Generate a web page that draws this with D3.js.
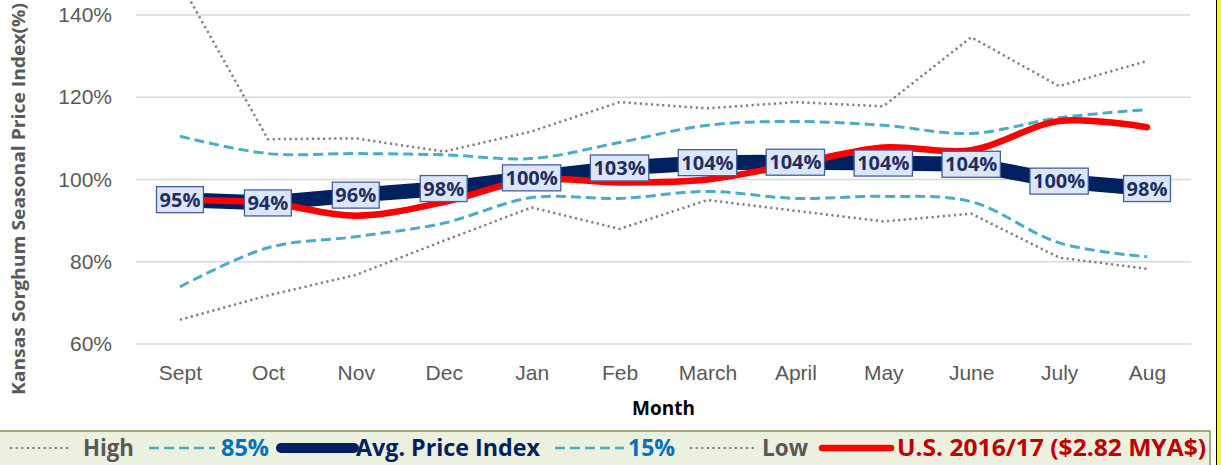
<!DOCTYPE html>
<html>
<head>
<meta charset="utf-8">
<script src="https://cdnjs.cloudflare.com/ajax/libs/d3/7.8.5/d3.min.js"></script>
<style>
  body { margin: 0; background: #fff; }
  svg { display: block; font-family: "Open Sans", sans-serif; }
</style>
</head>
<body>
<div class="chart"></div>
<script>
// data (percent of average price)
var months = ["Sept", "Oct", "Nov", "Dec", "Jan", "Feb", "March", "April", "May", "June", "July", "Aug"];
var highIdx = [148, 109.8, 110, 106.8, 111.7, 118.8, 117.3, 118.8, 117.8, 134.6, 122.7, 128.8];
var pct85 = [110.5, 106.3, 106.3, 106, 105.1, 109, 113.2, 114.1, 113.2, 111.2, 115, 117];
var avgIdx = [95.1, 94.3, 96.2, 97.8, 100.4, 102.8, 104.1, 104.2, 104.0, 103.7, 99.6, 97.8];
var pct15 = [73.9, 83.4, 86.1, 89.4, 95.6, 95.4, 97.1, 95.4, 95.9, 94.6, 84.6, 81.2];
var lowIdx = [65.9, 71.8, 76.8, 85.1, 93.2, 88, 95, 92.4, 89.8, 91.7, 81, 78.3];
var us1617 = [95, 94.3, 91.2, 94.5, 100, 99.3, 100, 103.8, 107.8, 107.1, 114.2, 112.7];
var yTicks = [60, 80, 100, 120, 140];

var svgWidth = 1221;
var svgHeight = 465;

var margin = { top: 15, right: 30, bottom: 121, left: 136 };
var width = svgWidth - margin.left - margin.right;
var height = svgHeight - margin.top - margin.bottom;

var svg = d3.select(".chart")
  .append("svg")
  .attr("width", svgWidth)
  .attr("height", svgHeight);

var chartGroup = svg.append("g")
  .attr("transform", `translate(${margin.left}, ${margin.top})`);

var xScale = d3.scalePoint()
  .domain(months)
  .range([0, width])
  .padding(0.5);

var yScale = d3.scaleLinear()
  .domain([60, 140])
  .range([height, 0]);

// gridlines
chartGroup.append("g")
  .selectAll("line")
  .data(yTicks)
  .enter()
  .append("line")
  .attr("x1", 0)
  .attr("x2", width)
  .attr("y1", d => yScale(d))
  .attr("y2", d => yScale(d))
  .attr("stroke", "#d9d9d9")
  .attr("stroke-width", 1.5);

// y axis
var leftAxis = d3.axisLeft(yScale)
  .tickValues(yTicks)
  .tickSize(0)
  .tickPadding(24)
  .tickFormat(d => d + "%");

var yAxis = chartGroup.append("g").call(leftAxis);
yAxis.select(".domain").remove();
yAxis.selectAll("text")
  .attr("fill", "#595959")
  .style("font-size", "21px");

// x axis
var bottomAxis = d3.axisBottom(xScale)
  .tickSize(0)
  .tickPadding(21);

var xAxis = chartGroup.append("g")
  .attr("transform", `translate(0, ${height})`)
  .call(bottomAxis);
xAxis.select(".domain").remove();
xAxis.selectAll("text")
  .attr("fill", "#595959")
  .style("font-size", "21px");

// axis titles
chartGroup.append("text")
  .attr("x", width / 2)
  .attr("y", height + 71)
  .attr("text-anchor", "middle")
  .attr("font-weight", "bold")
  .attr("fill", "#000")
  .style("font-size", "19px")
  .text("Month");

svg.append("text")
  .attr("transform", "rotate(-90)")
  .attr("x", -199)
  .attr("y", 25)
  .attr("text-anchor", "middle")
  .attr("font-weight", "bold")
  .attr("fill", "#595959")
  .attr("textLength", 392)
  .attr("lengthAdjust", "spacingAndGlyphs")
  .style("font-size", "18px")
  .text("Kansas Sorghum Seasonal Price Index(%)");

// series, in drawing order
var series = [
  { name: "High", values: highIdx, color: "#7f7f7f", width: 2.5, dash: "2.2,3.4", curve: d3.curveLinear, text: "#595959" },
  { name: "85%", values: pct85, color: "#4bacc6", width: 3, dash: "10,5", curve: d3.curveCatmullRom, text: "#0070c0" },
  { name: "Avg. Price Index", values: avgIdx, color: "#002060", width: 15, dash: null, curve: d3.curveLinear, text: "#002060" },
  { name: "15%", values: pct15, color: "#4bacc6", width: 3, dash: "10,5", curve: d3.curveCatmullRom, text: "#0070c0" },
  { name: "Low", values: lowIdx, color: "#7f7f7f", width: 2.5, dash: "2.2,3.4", curve: d3.curveLinear, text: "#595959" },
  { name: "U.S. 2016/17 ($2.82 MYA$)", values: us1617, color: "#ff0000", width: 6.5, dash: null, curve: d3.curveCatmullRom, text: "#c00000" }
];

series.forEach(function(s) {
  var line = d3.line()
    .x((d, i) => xScale(months[i]))
    .y(d => yScale(d))
    .curve(s.curve);

  chartGroup.append("path")
    .datum(s.values)
    .attr("d", line)
    .attr("fill", "none")
    .attr("stroke", s.color)
    .attr("stroke-width", s.width)
    .attr("stroke-dasharray", s.dash)
    .attr("stroke-linecap", s.dash ? "butt" : "round")
    .attr("stroke-linejoin", "round");
});

// data labels on the average line
var labelGroup = chartGroup.selectAll(".dlabel")
  .data(avgIdx)
  .enter()
  .append("g")
  .attr("class", "dlabel")
  .attr("transform", (d, i) => `translate(${xScale(months[i])}, ${yScale(d)})`);

labelGroup.append("rect")
  .attr("fill", "#dce6fa")
  .attr("stroke", "#41609a")
  .attr("stroke-width", 1.3);

labelGroup.append("text")
  .attr("text-anchor", "middle")
  .attr("dy", "0.36em")
  .attr("font-weight", "bold")
  .attr("fill", "#1f2f5f")
  .style("font-size", "20px")
  .text(d => Math.round(d) + "%");

labelGroup.each(function() {
  var g = d3.select(this);
  var w = g.select("text").node().getComputedTextLength() + 6;
  g.select("rect")
    .attr("x", -w / 2)
    .attr("y", -13)
    .attr("width", w)
    .attr("height", 26);
});

// legend band
var legendY = 448;
svg.append("rect")
  .attr("x", -2)
  .attr("y", 431)
  .attr("width", 1212)
  .attr("height", 40)
  .attr("fill", "#ebf1de")
  .attr("stroke", "#6f8a3a")
  .attr("stroke-width", 1.3);

// legend layout: [line start, line end, text start, text end]
var legendPos = [
  [10, 71, 83, 134],
  [149, 215, 221, 269],
  [281, 354, 356, 540],
  [555, 624, 628, 675],
  [690, 754, 762, 808],
  [822, 891, 897, 1206]
];

var legend = svg.append("g");
series.forEach(function(s, i) {
  var p = legendPos[i];
  var lw = s.name === "Avg. Price Index" ? 10 : (s.dash ? s.width - 0.5 : s.width);
  legend.append("line")
    .attr("x1", p[0])
    .attr("x2", p[1])
    .attr("y1", legendY)
    .attr("y2", legendY)
    .attr("stroke", s.color)
    .attr("stroke-width", lw)
    .attr("stroke-dasharray", s.dash)
    .attr("stroke-linecap", s.dash ? "butt" : "round");
  legend.append("text")
    .attr("x", p[2])
    .attr("y", legendY)
    .attr("dy", "0.35em")
    .attr("font-weight", "bold")
    .attr("fill", s.text)
    .attr("textLength", p[3] - p[2])
    .attr("lengthAdjust", "spacingAndGlyphs")
    .style("font-size", "23px")
    .text(s.name);
});

// frame edge on the right
svg.append("rect")
  .attr("x", 1217)
  .attr("y", 0)
  .attr("width", 4)
  .attr("height", svgHeight)
  .attr("fill", "#ffff00");
svg.append("line")
  .attr("x1", 1216.5)
  .attr("x2", 1216.5)
  .attr("y1", 0)
  .attr("y2", svgHeight)
  .attr("stroke", "#000")
  .attr("stroke-width", 1);
</script>
</body>
</html>
